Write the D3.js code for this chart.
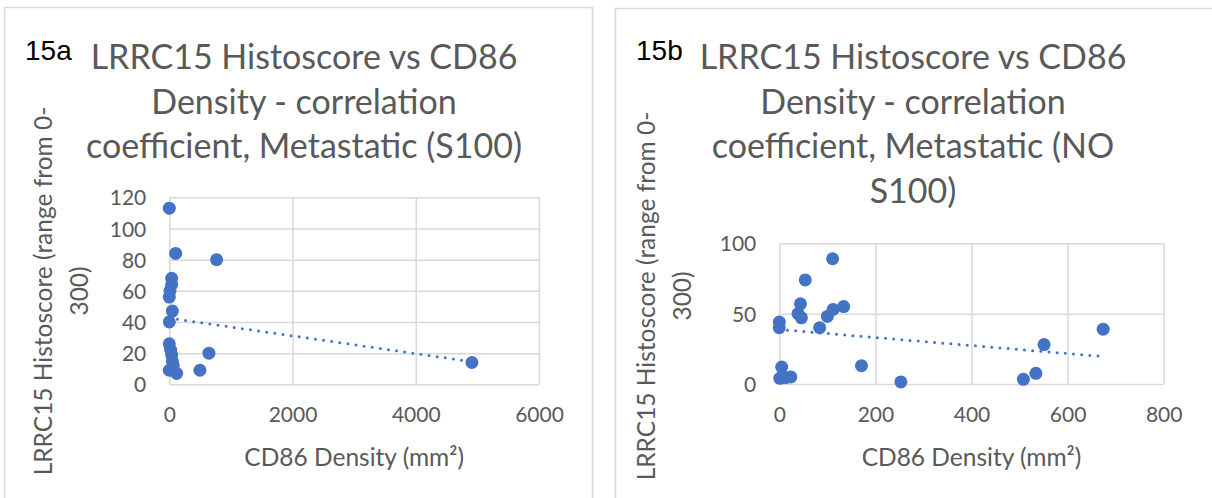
<!DOCTYPE html>
<html>
  <head>
    <meta charset="utf-8">
    <title>LRRC15 Histoscore vs CD86 Density</title>
    <style>
      body { margin: 0; background: #fff; }
      svg { display: block; }
      .title { font-family: Lato, "Open Sans", sans-serif; fill: #595959; font-size: 34px; }
      .tick text { font-family: Lato, "Open Sans", sans-serif; fill: #595959; font-size: 21px; }
      .axis-title { font-family: Lato, "Open Sans", sans-serif; fill: #595959; font-size: 24.5px; }
      .panel-label { font-family: "Liberation Sans", Arial, sans-serif; fill: #000; font-size: 28px; }
    </style>
  </head>
  <body>
    <div id="chart"></div>
    <script src="https://cdn.jsdelivr.net/npm/d3@7"></script>
    <script>
      // 15a - metastatic (S100)
      var densityA = [0, 103, 768, 38, 38, 11, 0, 49, 0, 0, 22, 38, 49, 65, 0, 119, 643, 497, 4911];
      var scoreA   = [113, 84, 80, 68, 64, 60, 56, 47, 40, 26, 22, 19, 15, 12, 9, 7, 20, 9, 14];
      var xTicksA = [0, 2000, 4000, 6000];
      var yTicksA = [0, 20, 40, 60, 80, 100, 120];
      var titleA = ['LRRC15 Histoscore vs CD86', 'Density - correlation', 'coefficient, Metastatic (S100)'];

      // 15b - metastatic (NO S100)
      var densityB = [0, 0, 111, 54, 44, 39, 46, 84, 100, 112, 134, 5, 1, 13, 24, 171, 253, 508, 534, 551, 674];
      var scoreB   = [44, 40, 89, 74, 57, 50, 47, 40, 48, 53, 55, 12, 4, 4.5, 5, 13, 1.5, 3.3, 7.6, 28, 39];
      var xTicksB = [0, 200, 400, 600, 800];
      var yTicksB = [0, 50, 100];
      var titleB = ['LRRC15 Histoscore vs CD86', 'Density - correlation', 'coefficient, Metastatic (NO', 'S100)'];

      var yTitle = ['LRRC15 Histoscore (range from 0-', '300)'];
      var xTitle = 'CD86 Density (mm\u00b2)';

      var width = 1212, height = 498;
      var grid = '#d9d9d9';
      var blue = '#4472c4';

      var svg = d3.select('#chart').append('svg')
        .attr('width', width)
        .attr('height', height);

      function linearFit(xs, ys) {
        var mx = d3.mean(xs), my = d3.mean(ys);
        var sxy = d3.sum(xs, function(x, i) { return (x - mx) * (ys[i] - my); });
        var sxx = d3.sum(xs, function(x) { return (x - mx) * (x - mx); });
        var b = sxy / sxx;
        return { slope: b, intercept: my - b * mx };
      }

      function drawPanel(cfg) {
        var g = svg.append('g');

        g.append('rect')
          .attr('x', cfg.box[0] + 0.5).attr('y', cfg.box[1] + 0.5)
          .attr('width', cfg.box[2]).attr('height', cfg.box[3])
          .attr('fill', '#fff').attr('stroke', grid).attr('stroke-width', 1.5);

        g.append('text').attr('class', 'panel-label')
          .attr('x', cfg.labelPos[0]).attr('y', cfg.labelPos[1])
          .text(cfg.label);

        g.append('text').attr('class', 'title')
          .attr('text-anchor', 'middle')
          .selectAll('tspan')
          .data(cfg.title)
          .enter().append('tspan')
          .attr('x', cfg.titleX)
          .attr('y', function(d, i) { return cfg.titleY + i * 44.5; })
          .text(function(d) { return d; });

        var x = d3.scaleLinear().domain(d3.extent(cfg.xTicks)).range(cfg.xRange);
        var y = d3.scaleLinear().domain(d3.extent(cfg.yTicks)).range(cfg.yRange);

        // gridlines
        g.append('g')
          .attr('transform', 'translate(0,' + cfg.yRange[0] + ')')
          .call(d3.axisBottom(x).tickValues(cfg.xTicks).tickSize(cfg.yRange[1] - cfg.yRange[0]).tickFormat(''))
          .call(function(a) { a.select('.domain').remove(); a.selectAll('line').attr('stroke', grid).attr('stroke-width', 1.5); });
        g.append('g')
          .attr('transform', 'translate(' + cfg.xRange[0] + ',0)')
          .call(d3.axisRight(y).tickValues(cfg.yTicks).tickSize(cfg.xRange[1] - cfg.xRange[0]).tickFormat(''))
          .call(function(a) { a.select('.domain').remove(); a.selectAll('line').attr('stroke', grid).attr('stroke-width', 1.5); });

        // tick labels
        g.append('g')
          .attr('transform', 'translate(0,' + cfg.yRange[0] + ')')
          .call(d3.axisBottom(x).tickValues(cfg.xTicks).tickSize(0).tickPadding(23).tickFormat(d3.format('d')))
          .call(function(a) { a.select('.domain').remove(); });
        g.append('g')
          .attr('transform', 'translate(' + cfg.xRange[0] + ',0)')
          .call(d3.axisLeft(y).tickValues(cfg.yTicks).tickSize(0).tickPadding(cfg.yPad).tickFormat(d3.format('d')))
          .call(function(a) { a.select('.domain').remove(); a.selectAll('text').attr('dy', '0.36em'); });

        g.append('text').attr('class', 'axis-title')
          .attr('text-anchor', 'middle')
          .attr('x', (cfg.xRange[0] + cfg.xRange[1]) / 2)
          .attr('y', 466)
          .text(xTitle);

        g.append('text').attr('class', 'axis-title')
          .attr('text-anchor', 'middle')
          .attr('transform', 'translate(' + cfg.yTitlePos[0] + ',' + cfg.yTitlePos[1] + ') rotate(-90)')
          .selectAll('tspan')
          .data(yTitle)
          .enter().append('tspan')
          .attr('x', 0)
          .attr('y', function(d, i) { return i * 36; })
          .text(function(d) { return d; });

        // markers
        g.append('g').selectAll('circle')
          .data(cfg.xs)
          .enter().append('circle')
          .attr('cx', function(d) { return x(d); })
          .attr('cy', function(d, i) { return y(cfg.ys[i]); })
          .attr('r', 6.5)
          .attr('fill', blue);

        // linear trendline over the data range
        var fit = linearFit(cfg.xs, cfg.ys);
        var ends = d3.extent(cfg.xs);
        g.append('line')
          .attr('x1', x(ends[0])).attr('y1', y(fit.intercept + fit.slope * ends[0]))
          .attr('x2', x(ends[1])).attr('y2', y(fit.intercept + fit.slope * ends[1]))
          .attr('stroke', blue)
          .attr('stroke-width', 3)
          .attr('stroke-linecap', 'round')
          .attr('stroke-dasharray', '0,8.2');
      }

      drawPanel({
        box: [4, 7, 588, 520],
        label: '15a', labelPos: [25, 60],
        title: titleA, titleX: 304, titleY: 69,
        xs: densityA, ys: scoreA,
        xTicks: xTicksA, yTicks: yTicksA,
        xRange: [169.3, 539], yRange: [384.3, 197.3],
        yPad: 23, yTitlePos: [52, 291]
      });

      drawPanel({
        box: [615, 8, 620, 520],
        label: '15b', labelPos: [636, 60],
        title: titleB, titleX: 913, titleY: 69,
        xs: densityB, ys: scoreB,
        xTicks: xTicksB, yTicks: yTicksB,
        xRange: [779.3, 1163.7], yRange: [384, 243.3],
        yPad: 23, yTitlePos: [655, 296]
      });
    </script>
  </body>
</html>
